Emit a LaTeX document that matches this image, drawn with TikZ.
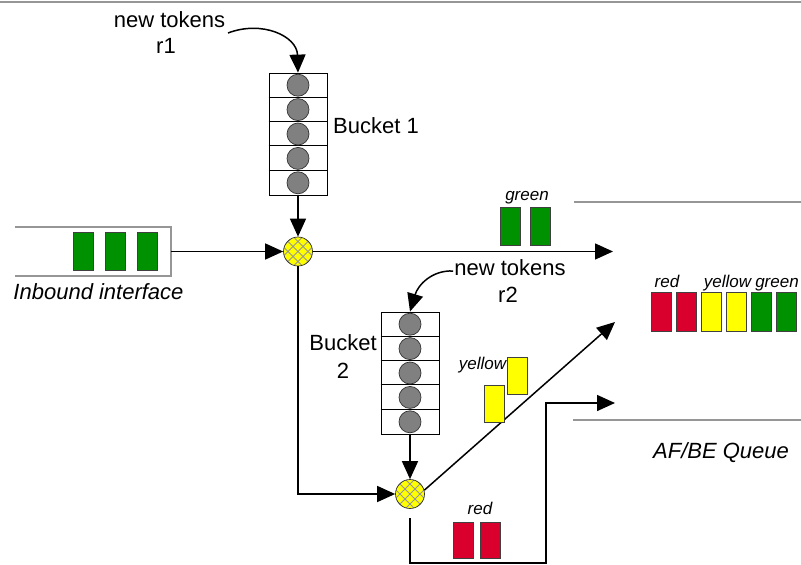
\documentclass[tikz,border=0pt]{standalone}
\usepackage{fontspec}
\setmainfont{Liberation Sans}
\usetikzlibrary{arrows.meta}

\definecolor{pktgreen}{RGB}{0,145,0}
\definecolor{pktred}{RGB}{218,0,46}
\definecolor{pktyellow}{RGB}{255,255,0}
\definecolor{tokengray}{RGB}{128,128,128}
\definecolor{rulegray}{RGB}{150,150,150}

\begin{document}
\begin{tikzpicture}[x=1pt,y=-1pt,
  lbl/.style={inner sep=0pt, font=\fontsize{22}{26}\selectfont},
  ilbl/.style={lbl, font=\fontsize{22}{26}\selectfont\itshape},
  tag/.style={inner sep=0pt, font=\fontsize{17}{20}\selectfont\itshape},
  pkt/.style={draw=black!75, line width=0.7pt, minimum width=20pt, minimum height=38pt, inner sep=0pt},
  gpkt/.style={pkt, fill=pktgreen},
  rpkt/.style={pkt, fill=pktred},
  ypkt/.style={pkt, fill=pktyellow},
  token/.style={circle, draw=black!80, fill=tokengray, line width=0.7pt, minimum size=22pt, inner sep=0pt},
  bucketbox/.style={draw, line width=0.8pt, minimum width=58pt, minimum height=122pt, inner sep=0pt},
  mixer/.style={circle, draw=black!80, fill=pktyellow, minimum size=29pt, inner sep=0pt, line width=0.7pt,
    path picture={
      \foreach \k in {-30,-20,...,30}{
        \draw[rulegray, line width=0.8pt] ([xshift=\k pt]path picture bounding box.center) ++(-20pt,-20pt) -- ++(40pt,40pt);
        \draw[rulegray, line width=0.8pt] ([xshift=\k pt]path picture bounding box.center) ++(-20pt,20pt) -- ++(40pt,-40pt);
      }
    }},
  arr/.style={line width=1.5pt, -{Triangle[length=18pt,width=16pt]}},
  rail/.style={draw=rulegray, line width=2pt},
]
\useasboundingbox (0,0) rectangle (801,565);

% frame line along the top
\draw[rail] (0,1.5) -- (801,1.5);

% ---- bucket 1 ----
\node[bucketbox] (b1) at (298,134) {};
\foreach \i in {1,...,4}
  \draw[line width=0.8pt] ([yshift=-24.4*\i pt]b1.north west) -- ([yshift=-24.4*\i pt]b1.north east);
\foreach \i in {0,...,4}
  \node[token] (b1t\i) at (298,{85.2+24.4*\i}) {};
\node[lbl, anchor=base west] (b1lbl) at (333,133) {Bucket 1};

\node[lbl, anchor=base] (nt1) at (169.5,27) {new tokens};
\node[lbl, anchor=base] (nt1r) at (166,53) {r1};
\coordinate (r1src) at (228,33);
\draw[arr] (r1src) .. controls (262,20) and (297,36) .. (b1.north);

% ---- inbound interface ----
\node[minimum width=156pt, minimum height=49pt, inner sep=0pt] (inb) at (93,251.5) {};
\draw[rail] (inb.north west) -- (inb.north east) -- (inb.south east) -- (inb.south west);
\node[gpkt] (in1) at (83,251) {};
\node[gpkt] (in2) at (115,251) {};
\node[gpkt] (in3) at (147,251) {};
\node[ilbl, anchor=base] (inblbl) at (98.5,299) {Inbound interface};

% ---- first meter ----
\node[mixer] (m1) at (298,251.5) {};
\draw[arr] (inb.east) -- (m1.west);
\draw[arr] (b1.south) -- (m1.north);
\coordinate (out1) at (613,251.5);
\draw[arr] (m1.east) -- (out1);
\node[gpkt] (g1) at (510.5,226) {};
\node[gpkt] (g2) at (540,226) {};
\node[tag, anchor=base] (glbl) at (527,200) {green};

% ---- bucket 2 ----
\node[bucketbox] (b2) at (410,373) {};
\foreach \i in {1,...,4}
  \draw[line width=0.8pt] ([yshift=-24.4*\i pt]b2.north west) -- ([yshift=-24.4*\i pt]b2.north east);
\foreach \i in {0,...,4}
  \node[token] (b2t\i) at (410,{324.2+24.4*\i}) {};
\node[lbl, anchor=base] (b2lbl) at (343,350) {Bucket};
\node[lbl, anchor=base] (b2lbln) at (343,378) {2};

\node[lbl, anchor=base] (nt2) at (510,275) {new tokens};
\node[lbl, anchor=base] (nt2r) at (508,302) {r2};
\coordinate (r2src) at (453,271);
\draw[arr] (r2src) .. controls (432,270) and (418,285) .. (b2.north);

% ---- second meter ----
\node[mixer] (m2) at (410,494) {};
\draw[arr] (m1.south) |- (m2.west);
\draw[arr] (b2.south) -- (m2.north);

\coordinate (out2) at (615,322);
\draw[arr] (m2.15) -- (out2);
\node[ypkt, minimum height=37pt] (y1) at (494,403.5) {};
\node[ypkt, minimum height=37pt] (y2) at (517.5,375.5) {};
\node[tag, anchor=base] (ylbl) at (482.5,369) {yellow};

\coordinate (rdsrc) at (410,518);
\coordinate (rdturn) at (546,563);
\coordinate (out3) at (615,403);
\draw[arr] (rdsrc) |- (rdturn) |- (out3);
\node[rpkt, minimum height=36pt] (rd1) at (463,540) {};
\node[rpkt, minimum height=36pt] (rd2) at (490,540) {};
\node[tag, anchor=base] (rlbl) at (480,514) {red};

% ---- AF/BE queue ----
\draw[rail] (574,202) -- (801,202);
\draw[rail] (573,420) -- (801,420);
\node[rpkt, minimum height=39pt] (q1) at (661,311.5) {};
\node[rpkt, minimum height=39pt] (q2) at (686,311.5) {};
\node[ypkt, minimum height=39pt] (q3) at (711,311.5) {};
\node[ypkt, minimum height=39pt] (q4) at (736,311.5) {};
\node[gpkt, minimum height=39pt] (q5) at (761,311.5) {};
\node[gpkt, minimum height=39pt] (q6) at (786,311.5) {};
\node[tag, anchor=base] (qr) at (667,287) {red};
\node[tag, anchor=base] (qy) at (727.5,287) {yellow};
\node[tag, anchor=base] (qg) at (777,287) {green};
\node[ilbl, anchor=base] (qlbl) at (721,458) {AF/BE Queue};
\end{tikzpicture}
\end{document}
